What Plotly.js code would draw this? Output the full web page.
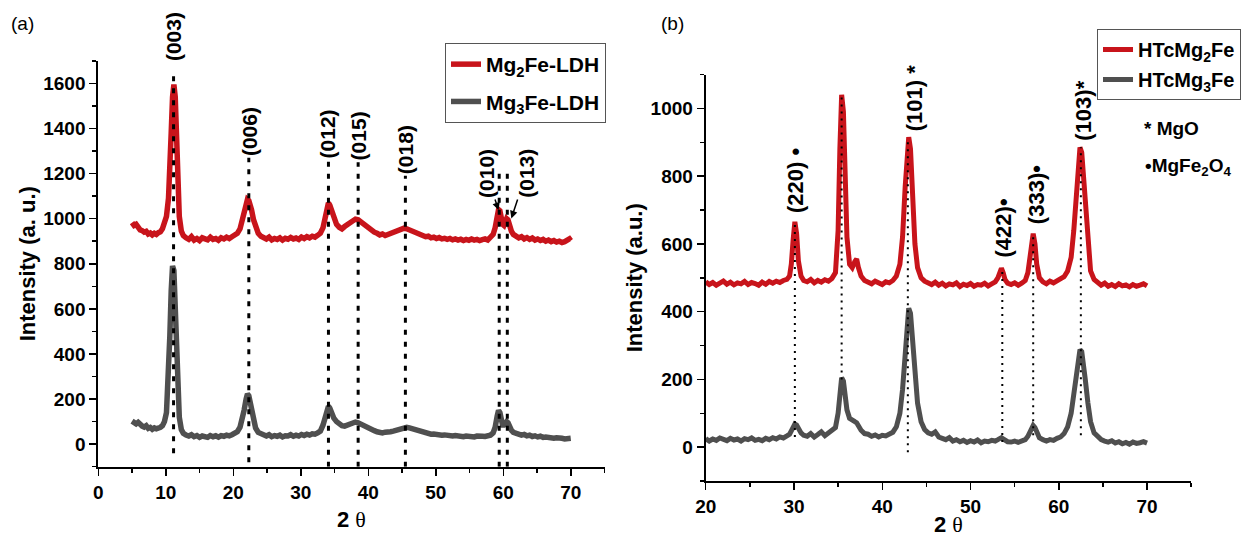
<!DOCTYPE html>
<html>
<head>
<meta charset="utf-8">
<script src="https://cdn.plot.ly/plotly-3.0.1.min.js"></script>
<style>html,body{margin:0;padding:0;background:#fff;}#chart{width:1242px;height:537px;}</style>
</head>
<body>
<div id="chart"></div>
<script>
// ---------- Panel (a): as-synthesised LDH ----------
const twoThetaA = [
  5,5.3,5.6,5.9,6.2,6.5,6.8,7.1,7.4,7.7,8,8.3,8.6,8.9,9.2,9.5,9.8,10.1,
  10.4,10.6,10.8,11.0,11.2,11.4,11.6,11.8,12.0,12.3,12.6,
  13.0,13.4,13.8,14.2,14.6,15.0,15.4,15.8,16.2,16.6,17.0,17.4,17.8,18.2,18.6,19.0,19.4,19.8,20.2,20.6,
  21.0,21.3,21.6,21.9,22.1,22.3,22.5,22.7,23.0,23.3,23.7,
  24.1,24.5,24.9,25.3,25.7,26.1,26.5,26.9,27.3,27.7,28.1,28.5,28.9,29.3,29.7,30.1,30.5,30.9,31.3,31.7,32.1,32.5,32.9,33.3,
  33.6,33.9,34.1,34.3,34.6,34.9,35.3,35.7,36.1,36.5,36.9,37.3,37.7,38.1,38.5,38.9,39.3,39.7,40.1,40.5,40.9,
  41.3,41.7,42.1,42.5,42.9,43.3,43.7,44.1,44.5,44.9,45.3,45.7,46.1,46.5,46.9,47.3,47.7,48.1,48.5,48.9,49.3,49.7,50.1,50.5,50.9,51.3,51.7,52.1,52.5,52.9,53.3,53.7,54.1,54.5,54.9,55.3,55.7,56.1,56.5,56.9,57.3,57.7,58.1,58.5,
  58.8,59.1,59.3,59.5,59.7,59.9,60.1,60.3,60.5,60.7,60.9,61.2,61.5,61.9,
  62.3,62.7,63.1,63.5,63.9,64.3,64.7,65.1,65.5,65.9,66.3,66.7,67.1,67.5,67.9,68.3,68.7,69.1,69.5,69.8,70];
const mg2FeLDH = [
  982,970,975,958,950,947,940,944,932,936,928,935,930,938,942,955,975,1010,
  1090,1200,1380,1540,1595,1540,1380,1180,1010,945,925,
  915,908,920,905,912,903,915,910,906,918,908,912,904,915,910,918,912,920,925,935,
  955,985,1025,1065,1085,1080,1065,1040,995,960,935,
  922,915,910,918,906,912,908,915,905,913,909,917,910,914,908,918,912,920,915,922,918,926,935,960,
  1010,1055,1070,1060,1030,1000,975,962,955,965,972,980,990,998,995,985,975,965,955,948,940,
  935,928,932,925,930,935,940,945,950,955,958,955,950,945,938,932,928,925,920,922,915,918,912,916,910,913,908,912,906,910,905,909,903,908,904,910,905,908,903,907,910,905,915,930,
  960,1010,1040,1035,1000,975,970,985,1000,995,970,945,930,920,
  915,920,910,916,908,914,905,910,903,908,900,905,898,903,896,900,894,898,905,910,902];
const mg3FeLDH = [
  102,96,90,97,84,80,76,82,70,74,66,72,68,70,75,82,100,140,
  300,480,680,790,770,620,420,240,120,65,48,
  40,36,42,33,38,30,36,34,30,38,33,37,31,38,35,40,37,42,46,55,
  75,105,150,200,222,215,190,150,105,72,52,
  45,40,36,42,33,38,35,40,32,37,36,42,35,40,36,43,38,44,40,46,44,50,58,85,
  125,158,168,160,135,115,100,90,82,80,84,90,96,98,95,88,82,75,70,64,60,
  55,52,50,53,52,55,58,62,65,70,74,75,72,68,62,58,54,52,48,47,44,45,42,43,40,41,38,40,36,38,35,37,33,36,34,35,32,36,33,35,34,36,40,50,
  75,125,150,140,105,85,85,95,100,95,80,62,52,46,
  44,40,43,37,40,34,37,32,35,30,32,28,30,26,28,24,26,23,27,30,26];
const xTicksA = [0,10,20,30,40,50,60,70];
const yTicksA = [0,200,400,600,800,1000,1200,1400,1600];
const dropXA = [11.15,22.3,34.1,38.5,45.5,59.4,60.6];
const dropBottomA = [-40,-80,-100,-100,-100,-100,-100];
const dropTopA = [1650,1270,1260,1250,1190,1200,1200];
const hklA = ['(003)','(006)','(012)','(015)','(018)'];
const hklXA = [11.15,22.3,34.1,38.5,45.5];
const hklYA = [1690,1270,1258,1248,1188];
const arrowLabelsA = ['(010)','(013)'];
const arrowTextXA = [57.5,63.4];
const arrowTextYA = [1200,1200];
const arrowHeadXA = [59.3,61.2];
const arrowHeadYA = [1038,1001];

// ---------- Panel (b): calcined samples ----------
const twoThetaB = [
  20,20.4,20.8,21.2,21.6,22,22.4,22.8,23.2,23.6,24,24.4,24.8,25.2,25.6,26,26.4,26.8,27.2,27.6,28,28.4,28.8,29.2,
  29.5,29.7,29.9,30.1,30.3,30.5,30.8,31.1,
  31.5,31.9,32.3,32.7,33.1,33.5,33.9,34.3,34.7,
  35.0,35.2,35.4,35.6,35.8,36.0,36.3,36.6,36.9,37.1,37.3,37.6,38.0,
  38.4,38.8,39.2,39.6,40.0,40.4,40.8,41.2,41.6,
  42.0,42.3,42.6,42.8,43.0,43.2,43.4,43.7,44.0,44.4,44.8,
  45.2,45.6,46.0,46.4,46.8,47.2,47.6,48.0,48.4,48.8,49.2,49.6,50.0,50.4,50.8,51.2,51.6,52.0,52.4,52.8,
  53.1,53.3,53.5,53.7,53.9,54.2,
  54.6,55.0,55.4,55.8,56.2,
  56.5,56.7,56.9,57.1,57.3,57.5,57.8,
  58.2,58.6,59.0,59.4,59.8,60.2,60.6,61.0,
  61.4,61.7,62.0,62.2,62.4,62.6,62.8,63.0,63.3,63.6,64.0,64.4,
  64.8,65.2,65.6,66.0,66.4,66.8,67.2,67.6,68.0,68.4,68.8,69.2,69.6,70];
const htcMg2Fe = [
  488,480,486,478,484,490,481,487,479,485,482,489,480,486,483,478,487,481,489,484,490,486,492,495,
  505,540,610,665,630,550,505,492,
  488,495,485,492,487,494,490,498,515,
  640,880,1040,990,780,620,540,530,548,555,530,505,492,
  488,482,490,484,480,488,485,492,505,
  540,620,770,870,915,880,760,600,530,500,490,
  485,480,487,478,484,476,482,479,485,474,481,477,483,475,480,478,484,476,482,488,
  500,518,528,515,495,484,
  480,485,478,484,492,
  515,560,615,630,600,540,500,
  488,482,490,485,492,496,503,520,
  560,640,760,850,885,870,800,700,590,520,495,485,
  478,484,475,480,474,482,476,479,473,480,475,478,482,476];
const htcMg3Fe = [
  25,18,24,20,27,22,19,26,21,24,18,25,22,27,20,23,19,26,22,28,24,30,27,33,
  38,48,60,68,65,52,42,35,
  32,40,30,37,45,34,42,46,58,
  100,160,205,195,150,110,85,78,75,72,62,50,40,
  38,32,36,30,35,33,38,44,60,
  100,170,290,380,410,395,330,220,130,75,52,
  42,38,45,30,26,22,28,18,22,16,20,14,19,15,21,13,18,16,20,18,
  22,26,28,24,19,16,
  15,18,14,17,22,
  32,45,58,64,58,42,28,
  22,18,22,20,26,30,40,60,
  100,160,230,270,288,282,250,200,130,75,42,30,
  22,18,15,19,12,16,10,14,9,15,11,13,16,12];
const xTicksB = [20,30,40,50,60,70];
const yTicksB = [0,200,400,600,800,1000];
const dropXB = [30.1,35.4,42.9,53.6,57.1,62.5];
const dropBottomB = [30,200,-15,15,35,35];
const dropTopB = [665,1040,915,528,630,885];
const hklB = ['(220) •','(311)•','(101) *','(422)•','(333)•','(103)*'];
const hklXB = [30.1,35.7,43.6,53.7,57.5,62.7];
const hklYB = [788,1152,1030,646,746,992];
const phaseKey = ['* MgO','•MgFe<sub>2</sub>O<sub>4</sub>'];
const phaseKeyX = [69.4,69.5];
const phaseKeyY = [941,827];

const RED = '#c8141b';
const GREY = '#4f4f4f';
const FONT = 'Liberation Sans, Arial, sans-serif';
const bold = (s) => ({family: FONT, size: s, color: '#000', weight: 'bold'});

const traces = [
  {x: twoThetaA, y: mg2FeLDH, xaxis: 'x', yaxis: 'y', type: 'scatter', mode: 'lines',
   name: 'Mg<sub>2</sub>Fe-LDH', line: {color: RED, width: 5.5}, legend: 'legend', legendgroup: 'a1'},
  {x: twoThetaA, y: mg3FeLDH, xaxis: 'x', yaxis: 'y', type: 'scatter', mode: 'lines',
   name: 'Mg<sub>3</sub>Fe-LDH', line: {color: GREY, width: 5.5}, legend: 'legend', legendgroup: 'a2'},
  {x: twoThetaB, y: htcMg2Fe, xaxis: 'x2', yaxis: 'y2', type: 'scatter', mode: 'lines',
   name: 'HTcMg<sub>2</sub>Fe', line: {color: RED, width: 5}, legend: 'legend2', legendgroup: 'b1'},
  {x: twoThetaB, y: htcMg3Fe, xaxis: 'x2', yaxis: 'y2', type: 'scatter', mode: 'lines',
   name: 'HTcMg<sub>3</sub>Fe', line: {color: GREY, width: 5}, legend: 'legend2', legendgroup: 'b2'}
];

const shapes = [];
dropXA.forEach((x, i) => shapes.push({type: 'line', xref: 'x', yref: 'y', x0: x, x1: x,
  y0: dropBottomA[i], y1: dropTopA[i], layer: 'above', line: {color: '#000', width: 3, dash: '5px,7px'}}));
dropXB.forEach((x, i) => shapes.push({type: 'line', xref: 'x2', yref: 'y2', x0: x, x1: x,
  y0: dropBottomB[i], y1: dropTopB[i], layer: 'above', line: {color: '#000', width: 2, dash: '2px,5px'}}));

const annotations = [];
hklA.forEach((t, i) => annotations.push({xref: 'x', yref: 'y', x: hklXA[i], y: hklYA[i], text: t,
  textangle: -90, showarrow: false, xanchor: 'center', yanchor: 'bottom', font: bold(21)}));
arrowLabelsA.forEach((t, i) => annotations.push({xref: 'x', yref: 'y', axref: 'x', ayref: 'y',
  x: arrowHeadXA[i], y: arrowHeadYA[i], ax: arrowTextXA[i], ay: arrowTextYA[i], text: t,
  textangle: -90, showarrow: true, arrowhead: 2, arrowsize: 1, arrowwidth: 1.5, arrowcolor: '#000',
  standoff: 0, font: bold(21)}));
hklB.forEach((t, i) => annotations.push({xref: 'x2', yref: 'y2', x: hklXB[i], y: hklYB[i], text: t,
  textangle: -90, showarrow: false, xanchor: 'center', yanchor: 'middle', font: bold(22)}));
phaseKey.forEach((t, i) => annotations.push({xref: 'x2', yref: 'y2', x: phaseKeyX[i], y: phaseKeyY[i], text: t,
  showarrow: false, xanchor: 'left', yanchor: 'middle', font: bold(19)}));
annotations.push({xref: 'paper', yref: 'paper', x: 22/1242, y: 1 - 23/537, text: '(a)', showarrow: false,
  xanchor: 'center', yanchor: 'middle', font: {family: FONT, size: 19, color: '#000'}});
annotations.push({xref: 'paper', yref: 'paper', x: 672/1242, y: 1 - 23/537, text: '(b)', showarrow: false,
  xanchor: 'center', yanchor: 'middle', font: {family: FONT, size: 19, color: '#000'}});

const thetaTitle = '2 <span style="font-family:\'Liberation Serif\',serif;font-weight:normal">θ</span>';

const axisCommon = {showline: true, linecolor: '#000', linewidth: 2, mirror: false, showgrid: false,
  zeroline: false, ticks: 'outside', ticklen: 7, tickwidth: 1.5, tickcolor: '#000',
  tickfont: bold(19), tickmode: 'array'};

const layout = {
  width: 1242, height: 537,
  margin: {l: 0, r: 0, t: 0, b: 0},
  paper_bgcolor: '#fff', plot_bgcolor: 'rgba(0,0,0,0)',
  font: {family: FONT, color: '#000'},
  xaxis: Object.assign({}, axisCommon, {domain: [98.3/1242, 604.5/1242], range: [0, 75], anchor: 'y',
    tickvals: xTicksA, ticktext: xTicksA.map(String),
    minor: {dtick: 5, tick0: 0, ticks: 'outside', ticklen: 4, tickwidth: 1.5, tickcolor: '#000'},
    title: {text: thetaTitle, font: bold(22), standoff: 10}}),
  yaxis: Object.assign({}, axisCommon, {domain: [70.3/537, 476.2/537], range: [-100, 1700], anchor: 'x',
    tickvals: yTicksA, ticktext: yTicksA.map(String),
    minor: {dtick: 100, tick0: 0, ticks: 'outside', ticklen: 4, tickwidth: 1.5, tickcolor: '#000'},
    title: {text: 'Intensity (a. u.)', font: bold(22), standoff: 2}}),
  xaxis2: Object.assign({}, axisCommon, {domain: [705.7/1242, 1191.2/1242], range: [20, 75], anchor: 'y2',
    tickvals: xTicksB, ticktext: xTicksB.map(String),
    minor: {dtick: 5, tick0: 0, ticks: 'outside', ticklen: 4, tickwidth: 1.5, tickcolor: '#000'},
    title: {text: thetaTitle, font: bold(22), standoff: 10}}),
  yaxis2: Object.assign({}, axisCommon, {domain: [56/537, 462.5/537], range: [-100, 1100], anchor: 'x2',
    tickvals: yTicksB, ticktext: yTicksB.map(String),
    minor: {dtick: 100, tick0: 0, ticks: 'outside', ticklen: 4, tickwidth: 1.5, tickcolor: '#000'},
    title: {text: 'Intensity (a.u.)', font: bold(22), standoff: 2}}),
  legend: {x: 445/1242, y: 1 - 43/537, xanchor: 'left', yanchor: 'top', bgcolor: '#fff',
    bordercolor: '#555', borderwidth: 1, font: bold(21), tracegroupgap: 7, traceorder: 'grouped'},
  legend2: {x: 1097/1242, y: 1 - 29/537, xanchor: 'left', yanchor: 'top', bgcolor: '#fff',
    bordercolor: '#555', borderwidth: 1, font: bold(20), tracegroupgap: 1, traceorder: 'grouped'},
  shapes: shapes,
  annotations: annotations
};

Plotly.newPlot('chart', traces, layout, {displayModeBar: false, staticPlot: true});
</script>
</body>
</html>
